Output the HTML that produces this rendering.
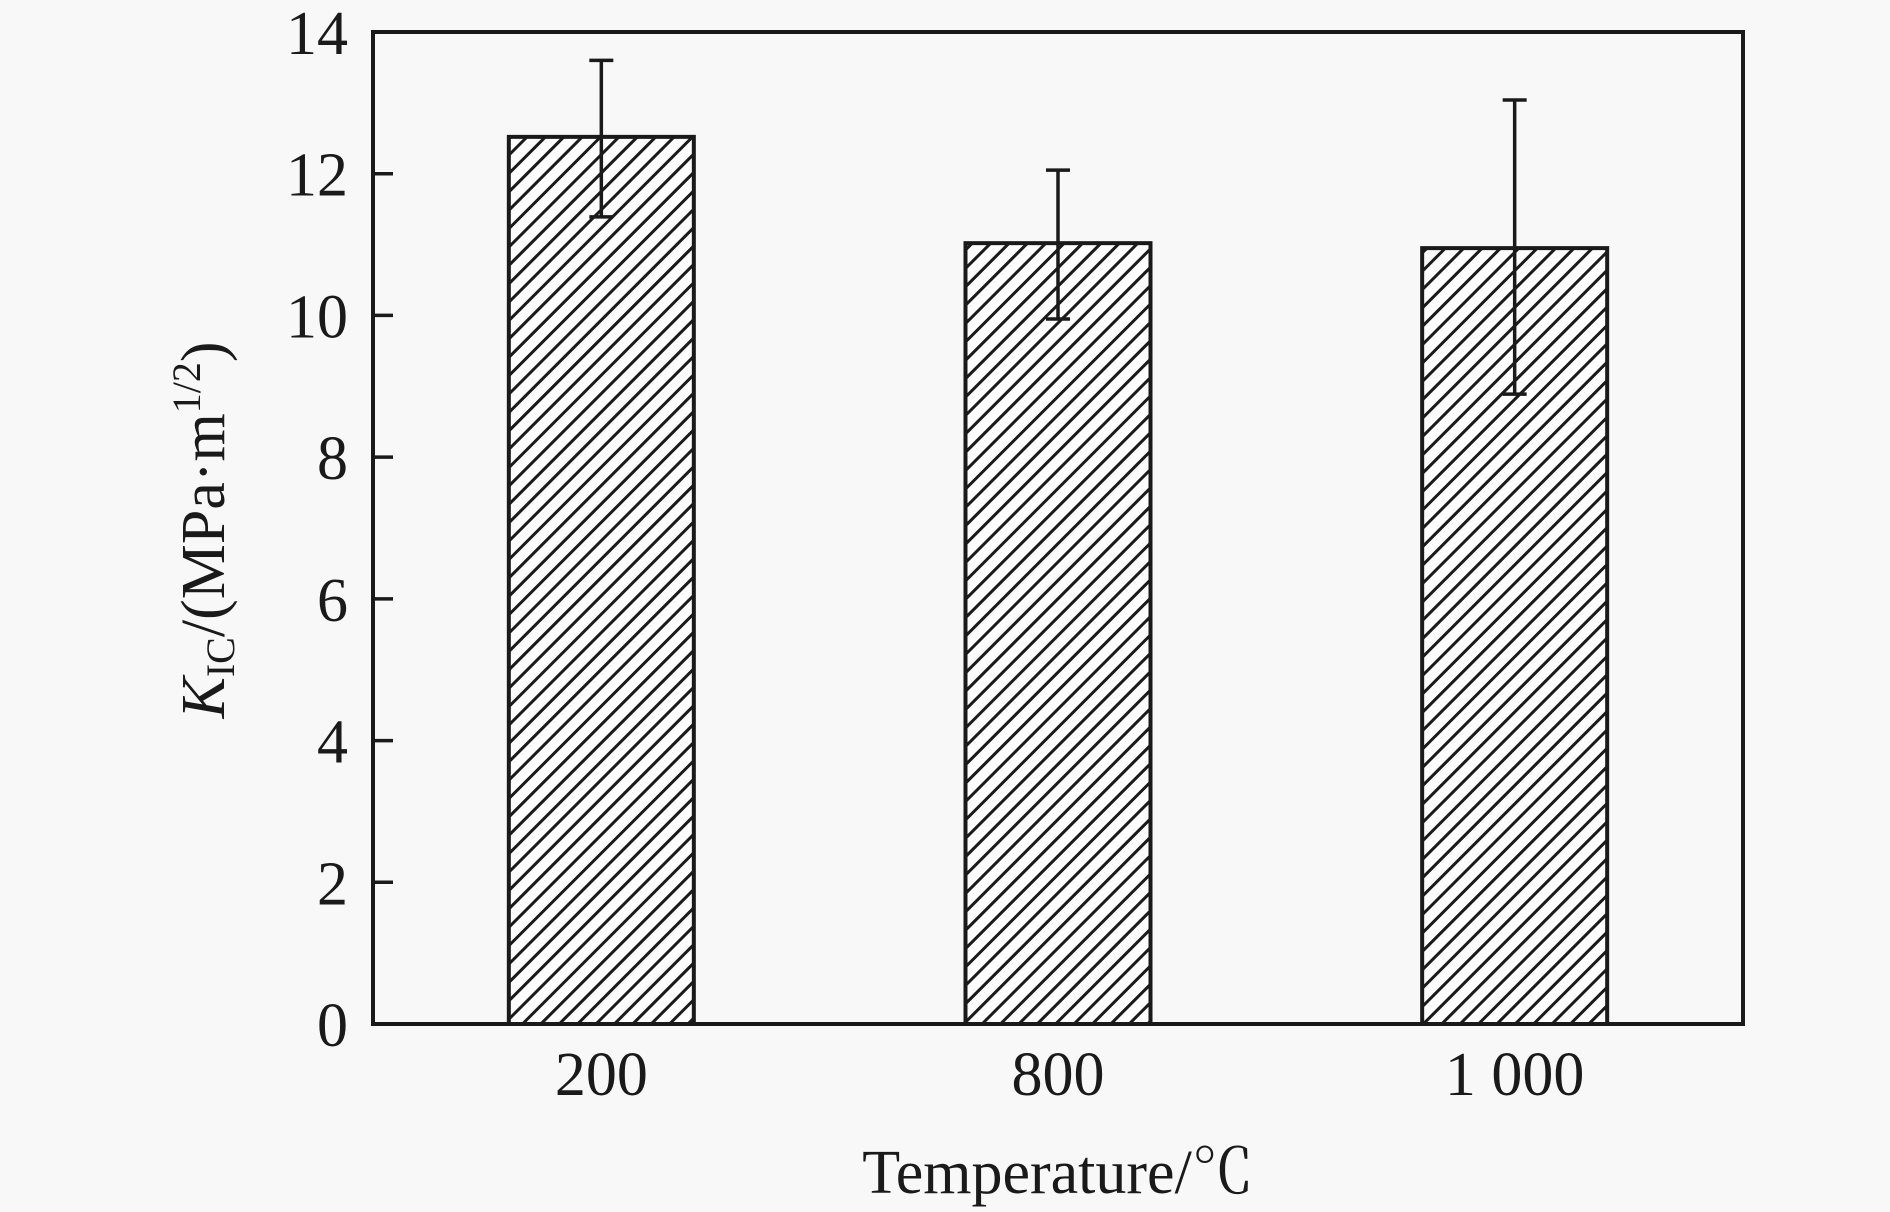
<!DOCTYPE html>
<html><head><meta charset="utf-8"><style>
html,body{margin:0;padding:0;background:#f8f8f8;}
svg{display:block;font-family:"Liberation Serif","Noto Serif CJK SC",serif;}
</style></head><body>
<svg width="1890" height="1212" viewBox="0 0 1890 1212">
<defs>
<pattern id="hatch" patternUnits="userSpaceOnUse" width="13" height="13" patternTransform="rotate(45)">
<rect width="13" height="13" fill="#fdfdfd"/>
<line x1="0" y1="0" x2="0" y2="13" stroke="#1a1a1a" stroke-width="6"/>
</pattern>
</defs>
<g id="plot"></g>
<text x="1058" y="1193" font-size="62" text-anchor="middle" fill="#1a1a1a">Temperature/℃</text>
<text transform="translate(224,530) rotate(-90)" font-size="62" text-anchor="middle" fill="#1a1a1a"><tspan font-style="italic">K</tspan><tspan font-size="40" dy="10">IC</tspan><tspan dy="-10">/(MPa·m</tspan><tspan font-size="40" dy="-24">1/2</tspan><tspan dy="24">)</tspan></text>
</svg>
<script>
const categories = ["200", "800", "1 000"];
const values = [12.52, 11.02, 10.95];
const errUp = [13.6, 12.05, 13.04];
const errDown = [11.39, 9.95, 8.89];
const yTicks = [0, 2, 4, 6, 8, 10, 12, 14];

const NS = "http://www.w3.org/2000/svg";
const L = 373, R = 1743, T = 32, B = 1024;
const ymax = 14;
const y = v => B - v / ymax * (B - T);
const step = (R - L) / categories.length;
const xc = i => L + step * (i + 0.5);
const bw = 185;
const g = document.getElementById("plot");
function mk(tag, attrs) { const e = document.createElementNS(NS, tag); for (const k in attrs) e.setAttribute(k, attrs[k]); g.appendChild(e); return e; }

categories.forEach((c, i) => {
  const cx = xc(i);
  const bar = mk("rect", {x: cx - bw / 2, y: y(values[i]), width: bw, height: B - y(values[i]), fill: "url(#hatch)", stroke: "#1a1a1a", "stroke-width": 4});
  
  
  const eb = mk("path", {d: `M${cx},${y(errUp[i])}V${y(errDown[i])}M${cx-12},${y(errUp[i])}H${cx+12}M${cx-12},${y(errDown[i])}H${cx+12}`, stroke: "#1a1a1a", "stroke-width": 3.5, fill: "none"});
  
  
  const t = mk("text", {x: cx, y: 1095, "font-size": 62, "text-anchor": "middle", fill: "#1a1a1a"});
  t.textContent = c;
  
  
});

yTicks.forEach(v => {
  const tk = mk("line", {x1: L, x2: L + 20, y1: y(v), y2: y(v), stroke: "#1a1a1a", "stroke-width": 3.5});
  
  
  const t = mk("text", {x: 348, y: y(v) + 22, "font-size": 62, "text-anchor": "end", fill: "#1a1a1a"});
  t.textContent = v;
  
  
});

const frame = mk("rect", {x: L, y: T, width: R - L, height: B - T, fill: "none", stroke: "#1a1a1a", "stroke-width": 4});


</script>
</body></html>
